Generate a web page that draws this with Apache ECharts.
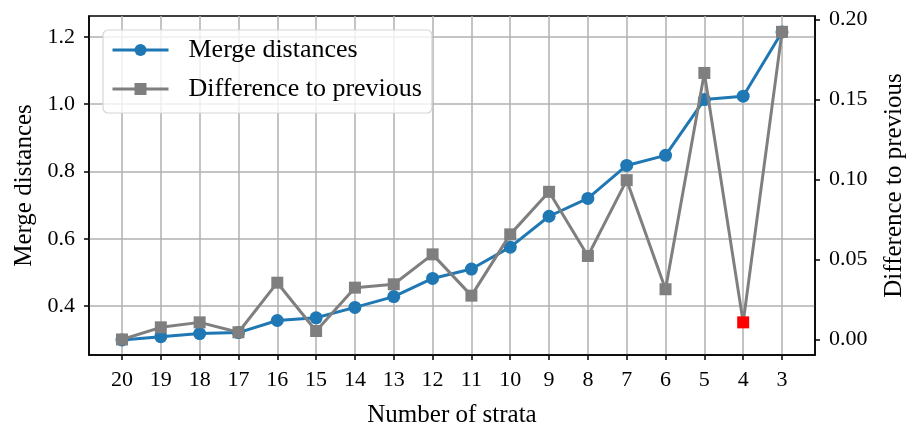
<!DOCTYPE html>
<html>
<head>
<meta charset="utf-8">
<script src="https://cdn.jsdelivr.net/npm/echarts@6/dist/echarts.min.js"></script>
<style>
  html, body { margin: 0; padding: 0; background: #fff; }
  #chart { width: 908px; height: 430px; }
</style>
</head>
<body>
<div id="chart"></div>
<script>
// Number of strata, from 20 clusters down to 3
const strata = ['20', '19', '18', '17', '16', '15', '14', '13', '12', '11', '10', '9', '8', '7', '6', '5', '4', '3'];
// Merge distance at each number of strata
const mergeDistances = [0.299, 0.309, 0.318, 0.321, 0.357, 0.365, 0.396, 0.428, 0.482, 0.510, 0.575, 0.667, 0.720, 0.818, 0.848, 1.014, 1.024, 1.215];
// Increase of the merge distance relative to the previous step
const differences = [0.0, 0.0076, 0.0107, 0.0045, 0.0355, 0.0053, 0.0324, 0.0345, 0.0532, 0.0274, 0.0657, 0.0923, 0.0522, 0.0996, 0.0314, 0.1666, 0.0107, 0.1923];
// Highlighted step
const highlighted = '4';
// Tick labels
const leftTicks = [0.4, 0.6, 0.8, 1.0, 1.2];
const rightTicks = [0.00, 0.05, 0.10, 0.15, 0.20];

const FONT = '"Liberation Serif", "DejaVu Serif", serif';
const idx = strata.map((s, i) => i);

const chart = echarts.init(document.getElementById('chart'), null, { renderer: 'canvas' });

chart.setOption({
  animation: false,
  backgroundColor: '#ffffff',
  textStyle: { fontFamily: FONT, color: '#000' },
  grid: {
    left: 89, right: 93, top: 16, bottom: 75,
    outerBoundsMode: 'none', containLabel: false,
    show: true, borderColor: '#000', borderWidth: 1.5, backgroundColor: 'transparent'
  },
  legend: {
    left: 103, top: 30,
    orient: 'vertical',
    itemWidth: 56, itemHeight: 15, itemGap: 9,
    padding: [5, 10, 9, 8],
    backgroundColor: 'rgba(255,255,255,0.8)',
    borderColor: '#d6d6d6', borderWidth: 1.2, borderRadius: 5,
    lineStyle: { width: 3 },
    textStyle: { fontFamily: FONT, fontSize: 26, color: '#000', lineHeight: 30, padding: [0, 0, 0, 15] },
    data: ['Merge distances', 'Difference to previous']
  },
  xAxis: {
    type: 'value',
    min: -0.85, max: strata.length - 1 + 0.85,
    name: 'Number of strata', nameLocation: 'middle', nameGap: 48,
    nameTextStyle: { fontFamily: FONT, fontSize: 25, color: '#000' },
    axisLine: { show: true, onZero: false, lineStyle: { color: '#000', width: 1.5 } },
    axisTick: { show: true, length: 5, customValues: idx, lineStyle: { color: '#000', width: 1.5 } },
    axisLabel: {
      customValues: idx, margin: 14, fontFamily: FONT, fontSize: 22, color: '#000',
      formatter: v => strata[Math.round(v)]
    },
    splitLine: { show: true, lineStyle: { color: '#b0b0b0', width: 1.5 } }
  },
  yAxis: [
    {
      type: 'value', position: 'left',
      min: 0.2544, max: 1.2624,
      name: 'Merge distances', nameLocation: 'middle', nameGap: 52, nameRotate: 90,
      nameTextStyle: { fontFamily: FONT, fontSize: 25, color: '#000' },
      axisLine: { show: true, onZero: false, lineStyle: { color: '#000', width: 1.5 } },
      axisTick: { show: true, length: 5, customValues: leftTicks, lineStyle: { color: '#000', width: 1.5 } },
      axisLabel: { customValues: leftTicks, margin: 14, fontFamily: FONT, fontSize: 22, color: '#000', formatter: v => v.toFixed(1) },
      splitLine: { show: true, lineStyle: { color: '#b0b0b0', width: 1.5 } }
    },
    {
      type: 'value', position: 'right',
      min: -0.0097, max: 0.2022,
      name: 'Difference to previous', nameLocation: 'middle', nameGap: 67, nameRotate: 90,
      nameTextStyle: { fontFamily: FONT, fontSize: 25, color: '#000' },
      axisLine: { show: true, onZero: false, lineStyle: { color: '#000', width: 1.5 } },
      axisTick: { show: true, length: 5, customValues: rightTicks, lineStyle: { color: '#000', width: 1.5 } },
      axisLabel: { customValues: rightTicks, margin: 14, fontFamily: FONT, fontSize: 22, color: '#000', formatter: v => v.toFixed(2) },
      splitLine: { show: false }
    }
  ],
  series: [
    {
      name: 'Merge distances', type: 'line', yAxisIndex: 0, z: 2,
      data: mergeDistances.map((v, i) => [i, v]),
      symbol: 'circle', symbolSize: 13,
      lineStyle: { color: '#1f77b4', width: 3 },
      itemStyle: { color: '#1f77b4' },
      emphasis: { disabled: true }
    },
    {
      name: 'Difference to previous', type: 'line', yAxisIndex: 1, z: 3,
      data: differences.map((v, i) => strata[i] === highlighted
        ? { value: [i, v], itemStyle: { color: '#ff0000' } }
        : [i, v]),
      symbol: 'rect', symbolSize: 12,
      lineStyle: { color: '#7f7f7f', width: 3 },
      itemStyle: { color: '#7f7f7f' },
      emphasis: { disabled: true }
    }
  ]
});
</script>
</body>
</html>
